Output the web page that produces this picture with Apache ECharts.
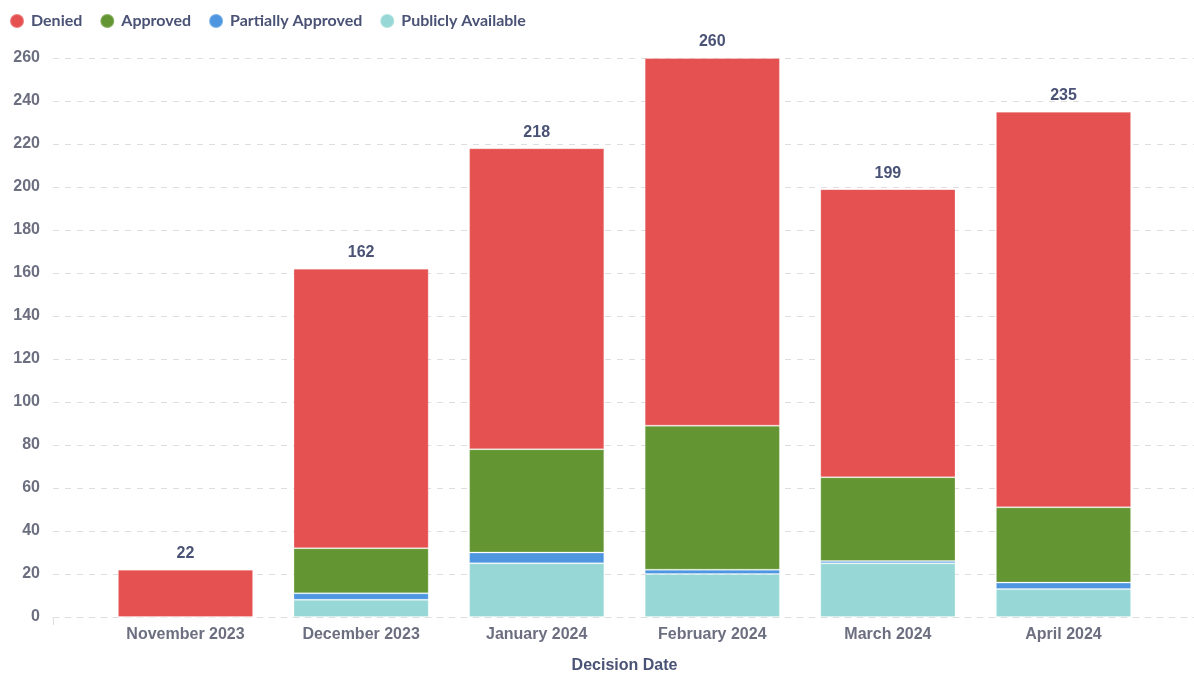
<!DOCTYPE html>
<html>
<head>
<meta charset="utf-8">
<script src="https://cdn.jsdelivr.net/npm/echarts@6/dist/echarts.min.js"></script>
<style>
html,body{margin:0;padding:0;background:#fff;}
#c{width:1194px;height:675px;}
</style>
</head>
<body>
<div id="c"></div>
<script>
const categories = ['November 2023','December 2023','January 2024','February 2024','March 2024','April 2024'];
const publiclyAvailable = [0, 8, 25, 20, 25, 13];
const partiallyApproved = [0, 3, 5, 2, 1, 3];
const approved = [0, 21, 48, 67, 39, 35];
const denied = [22, 130, 140, 171, 134, 184];
const yTicks = [0, 20, 40, 60, 80, 100, 120, 140, 160, 180, 200, 220, 240, 260];

const totals = categories.map((_, i) => publiclyAvailable[i] + partiallyApproved[i] + approved[i] + denied[i]);

const chart = echarts.init(document.getElementById('c'), null, {renderer: 'canvas'});
const axisFont = '"Liberation Sans", Arial, sans-serif';
const gridColor = '#dedede';
const yMin = yTicks[0], yMax = yTicks[yTicks.length - 1], yInt = yTicks[1] - yTicks[0];

function bar(name, data, color, extra) {
  return Object.assign({
    name: name, type: 'bar', stack: 'total', data: data,
    xAxisIndex: 1, yAxisIndex: 1,
    barWidth: '77%',
    itemStyle: {color: color, borderColor: 'rgba(255,255,255,0.25)', borderWidth: 1},
    emphasis: {disabled: true}
  }, extra || {});
}

chart.setOption({
  animation: false,
  color: ['#e55151', '#639632', '#4e97e0', '#97d8d6'],
  legend: {
    left: 4, top: 8,
    icon: 'circle', itemWidth: 14, itemHeight: 14, itemGap: 17,
    data: ['Denied', 'Approved', 'Partially Approved', 'Publicly Available'],
    textStyle: {fontFamily: 'Lato, sans-serif', fontWeight: 'bold', fontSize: 16, color: '#4a5275', padding: [0, 0, 0, 2]}
  },
  grid: [
    {left: 53, right: 0, top: 58, bottom: 58, outerBoundsMode: 'none', containLabel: false},
    {left: 97.7, right: 42.7, top: 58, bottom: 58, outerBoundsMode: 'none', containLabel: false}
  ],
  xAxis: [
    {
      gridIndex: 0, type: 'category', data: [''], boundaryGap: true,
      axisLine: {show: true, lineStyle: {color: gridColor, type: [6, 6]}},
      axisTick: {show: true, length: 8, lineStyle: {color: gridColor}},
      axisLabel: {show: false}
    },
    {
      gridIndex: 1, type: 'category', data: categories,
      axisLine: {show: false}, axisTick: {show: false},
      axisLabel: {margin: 10, fontFamily: axisFont, fontWeight: 'bold', fontSize: 16, color: '#6b6f80'},
      name: 'Decision Date', nameLocation: 'middle', nameGap: 41,
      nameTextStyle: {fontFamily: axisFont, fontWeight: 'bold', fontSize: 16, color: '#4a5275'}
    }
  ],
  yAxis: [
    {
      gridIndex: 0, type: 'value', min: yMin, max: yMax, interval: yInt,
      axisLine: {show: false}, axisTick: {show: false},
      axisLabel: {margin: 13, fontFamily: axisFont, fontWeight: 'bold', fontSize: 16, color: '#6b6f80'},
      splitLine: {show: true, lineStyle: {color: gridColor, type: [6, 6], width: 1}}
    },
    {
      gridIndex: 1, type: 'value', min: yMin, max: yMax, interval: yInt,
      show: false, splitLine: {show: false}
    }
  ],
  series: [
    bar('Publicly Available', publiclyAvailable, '#97d8d6'),
    bar('Partially Approved', partiallyApproved, '#4e97e0'),
    bar('Approved', approved, '#639632'),
    bar('Denied', denied, '#e55151', {
      label: {
        show: true, position: 'top', distance: 8,
        formatter: p => totals[p.dataIndex],
        fontFamily: axisFont, fontWeight: 'bold', fontSize: 16, color: '#4a5275'
      }
    })
  ]
});
</script>
</body>
</html>
